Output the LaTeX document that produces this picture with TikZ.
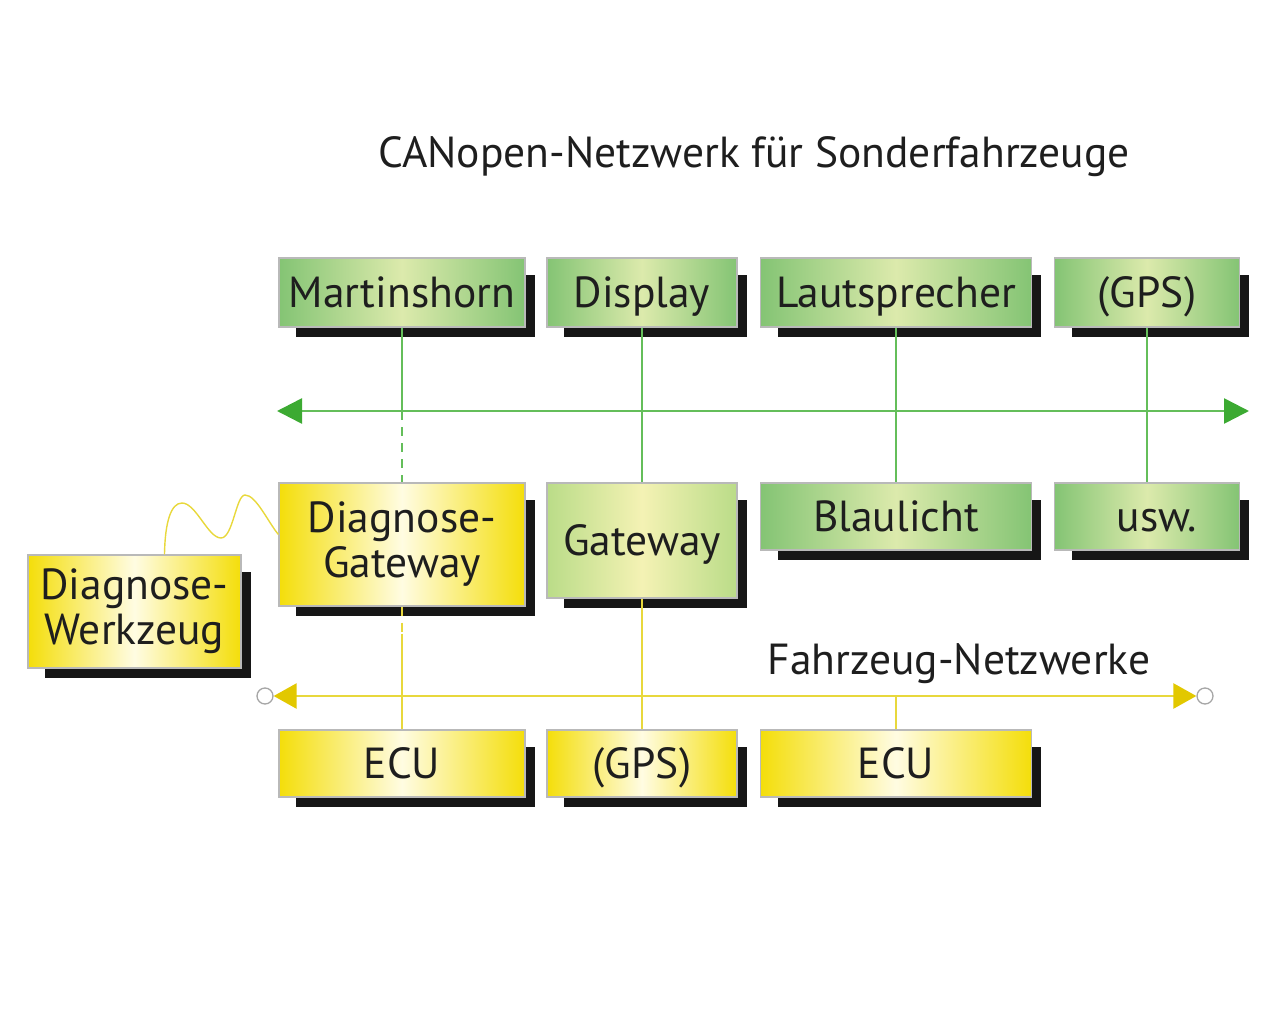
\documentclass[tikz,border=0pt]{standalone}
\usepackage{fontspec}
\setmainfont{PT Sans}
\usetikzlibrary{arrows.meta, calc, backgrounds}
\tikzset{every node/.style={text=schrift}}
\tikzset{ %Kaestchen
    box/.style={draw=gray!55, line width=1.2pt, inner sep=0pt, align=center,
        font=\fontsize{43.5}{45}\selectfont},
    einzeilig/.style={text height=30pt, text depth=0pt},
    gbox/.style={box, left color=gruenrand, right color=gruenrand, middle color=gruenmitte},
    ybox/.style={box, left color=gelbrand, right color=gelbrand, middle color=gelbmitte},
    gwbox/.style={box, left color=gwrand, right color=gwrand, middle color=gwmitte},
    gline/.style={draw=gruen, line width=1.6pt},
    yline/.style={draw=gelb, line width=1.6pt},
    gbus/.style={draw=gruen, line width=2.6pt, {Triangle[length=25pt,width=25pt,color=gruenpfeil]}-{Triangle[length=25pt,width=25pt,color=gruenpfeil]}},
    ybus/.style={draw=gelb, line width=2.6pt, {Triangle[length=23pt,width=25pt,color=gelbpfeil]}-{Triangle[length=23pt,width=25pt,color=gelbpfeil]}},
    kreis/.style={circle, draw=gray!70, line width=1.3pt, fill=white, minimum size=16pt, inner sep=0pt},
}
\definecolor{schrift}{RGB}{30,30,30}
\definecolor{gruen}{RGB}{100,190,90}
\definecolor{gruenpfeil}{RGB}{60,170,50}
\definecolor{gruenrand}{RGB}{132,196,116}
\definecolor{gruenmitte}{RGB}{220,234,172}
\definecolor{gelb}{RGB}{232,216,60}
\definecolor{gelbpfeil}{RGB}{226,200,0}
\definecolor{gelbrand}{RGB}{244,222,10}
\definecolor{gelbmitte}{RGB}{255,252,226}
\definecolor{gwrand}{RGB}{186,220,136}
\definecolor{gwmitte}{RGB}{244,242,180}
\definecolor{schatten}{RGB}{22,22,22}

\begin{document}
\begin{tikzpicture}[x=1pt, y=-1pt]
    \useasboundingbox (0,0) rectangle (1280,1025);
    \node[font=\fontsize{43.5}{46}\selectfont] (titel) at (754,157) {CANopen-Netzwerk für Sonderfahrzeuge};

    \node[gbox, einzeilig, minimum width=246pt, minimum height=69pt] (martinshorn) at (402,292.5) {Martinshorn};
    \node[gbox, einzeilig, minimum width=190pt, minimum height=69pt] (display) at (642,292.5) {Display};
    \node[gbox, einzeilig, minimum width=271pt, minimum height=69pt] (lautsprecher) at (896,292.5) {Lautsprecher};
    \node[gbox, einzeilig, minimum width=185pt, minimum height=69pt] (gpsoben) at (1147,292.5) {(GPS)};

    \node[ybox, minimum width=246pt, minimum height=123pt] (diaggw) at (402,544.5) {Diagnose-\\Gateway};
    \node[gwbox, einzeilig, minimum width=190pt, minimum height=115pt] (gateway) at (642,540.5) {Gateway};
    \node[gbox, einzeilig, minimum width=271pt, minimum height=67pt] (blaulicht) at (896,516.5) {Blaulicht};
    \node[gbox, einzeilig, minimum width=185pt, minimum height=67pt] (usw) at (1147,516.5) {\hspace{20pt}usw.};
    \node[ybox, minimum width=213pt, minimum height=113pt] (werkzeug) at (134.5,611.5) {Diagnose-\\Werkzeug};

    \node[ybox, einzeilig, minimum width=246pt, minimum height=67pt] (ecua) at (402,763.5) {ECU};
    \node[ybox, einzeilig, minimum width=190pt, minimum height=67pt] (gpsunten) at (642,763.5) {(GPS)};
    \node[ybox, einzeilig, minimum width=271pt, minimum height=67pt] (ecub) at (896,763.5) {ECU};

    \begin{scope}[on background layer]
        \foreach \n in {martinshorn,display,lautsprecher,gpsoben,diaggw,gateway,blaulicht,usw,werkzeug,ecua,gpsunten,ecub}{
            \fill[schatten] ($(\n.south west)+(18,9)$) rectangle ($(\n.north east)+(9,18)$);
        }
    \end{scope}

    % CANopen-Bus
    \coordinate (gl) at (277,411);
    \coordinate (gr) at (1249,411);
    \draw[gbus] (gl) -- (gr);
    \draw[gline] (martinshorn) -- (martinshorn |- gl);
    \draw[gline, dash pattern=on 9pt off 7pt] (martinshorn |- gl) -- (diaggw);
    \draw[gline] (display) -- (gateway);
    \draw[gline] (lautsprecher) -- (blaulicht);
    \draw[gline] (gpsoben) -- (usw);

    % Fahrzeug-Netzwerke
    \node[kreis] (kl) at (265,696) {};
    \node[kreis] (kr) at (1205,696) {};
    \draw[ybus] (kl) -- (kr);
    \node[font=\fontsize{43.5}{46}\selectfont] (fahrzeug) at (959,664) {Fahrzeug-Netzwerke};
    \coordinate (ybruch) at ($(diaggw.south)+(0,27)$);
    \draw[yline, dash pattern=on 9pt off 7pt] (diaggw) -- (ybruch);
    \draw[yline] (ybruch) -- (ecua);
    \draw[yline] (gateway) -- (gpsunten);
    \draw[yline] (ecub |- kl) -- (ecub);

    \coordinate (kabela) at ($(werkzeug.north)+(30,0)$);
    \coordinate (kabelb) at ($(diaggw.west)+(0,-10)$);
    \draw[yline, line width=1.4pt] (kabela) .. controls (165,522) and (171,503) .. (182,503)
        .. controls (196,503) and (208,538) .. (221,538)
        .. controls (233,538) and (236,495) .. (245,495)
        .. controls (256,495) and (268,522) .. (kabelb);
\end{tikzpicture}
\end{document}
